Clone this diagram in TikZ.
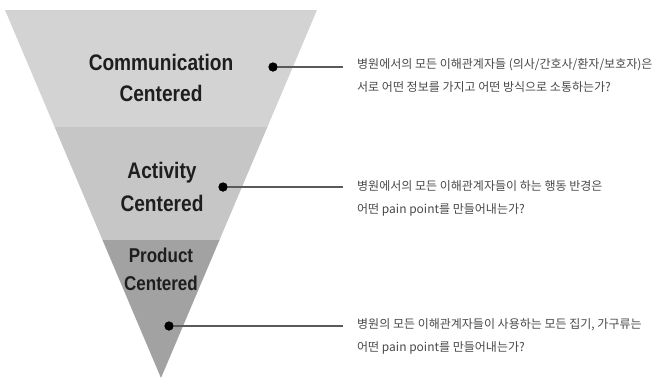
\documentclass[tikz,border=0pt]{standalone}
\usepackage{fontspec}
\usetikzlibrary{calc}
\newfontfamily\labfont[FakeStretch=0.85]{Liberation Sans}
\newfontfamily\krfont{Noto Sans CJK KR}
\definecolor{bandA}{HTML}{D3D3D3}
\definecolor{bandB}{HTML}{C6C6C6}
\definecolor{bandC}{HTML}{A2A2A2}
\definecolor{labtext}{HTML}{1E1E1E}
\definecolor{kortext}{HTML}{484848}
\definecolor{conn}{HTML}{5A5A5A}
\begin{document}
\begin{tikzpicture}[x=1pt,y=-1pt,
  lab/.style={font=\labfont\bfseries, text=labtext, align=center, inner sep=0pt},
  desc/.style={font=\krfont\fontsize{12}{23}\selectfont, text=kortext, align=left, anchor=west, inner sep=0pt},
  dotmark/.style={circle, fill=black, minimum size=9pt, inner sep=0pt},
  connline/.style={draw=conn, line width=1.5pt}]
\useasboundingbox (0,0) rectangle (656,381);
% funnel bands
\coordinate (TL) at (5,10);
\coordinate (TR) at (317,10);
\coordinate (AP) at (161,378);
\fill[bandA] (5,10) -- (317,10) -- ($(TR)!117/368!(AP)$) -- ($(TL)!117/368!(AP)$) -- cycle;
\fill[bandB] ($(TL)!117/368!(AP)$) -- ($(TR)!117/368!(AP)$) -- ($(TR)!230/368!(AP)$) -- ($(TL)!230/368!(AP)$) -- cycle;
\fill[bandC] ($(TL)!230/368!(AP)$) -- ($(TR)!230/368!(AP)$) -- (AP) -- cycle;
% labels
\node[lab, font=\labfont\bfseries\fontsize{22.5}{31}\selectfont] (l1) at (161,77.5) {Communication\\Centered};
\node[lab, font=\labfont\bfseries\fontsize{22.5}{33}\selectfont] (l2) at (162,186.5) {Activity\\Centered};
\node[lab, font=\labfont\bfseries\fontsize{20}{28}\selectfont] (l3) at (161,269) {Product\\Centered};
% dots
\node[dotmark] (d1) at (273,67) {};
\node[dotmark] (d2) at (223,187) {};
\node[dotmark] (d3) at (169,326) {};
% line ends
\coordinate (e1) at (343,67);
\coordinate (e2) at (343,187);
\coordinate (e3) at (343,326);
\draw[connline] (d1.center) -- (e1);
\draw[connline] (d2.center) -- (e2);
\draw[connline] (d3.center) -- (e3);
\node[dotmark] at (d1) {};
\node[dotmark] at (d2) {};
\node[dotmark] at (d3) {};
% descriptions
\node[desc] (t1) at (357,75.5) {병원에서의 모든 이해관계자들 (의사/간호사/환자/보호자)은\\서로 어떤 정보를 가지고 어떤 방식으로 소통하는가?};
\node[desc] (t2) at (357,198.5) {병원에서의 모든 이해관계자들이 하는 행동 반경은\\어떤 pain point를 만들어내는가?};
\node[desc] (t3) at (357,336.5) {병원의 모든 이해관계자들이 사용하는 모든 집기, 가구류는\\어떤 pain point를 만들어내는가?};
\end{tikzpicture}
\end{document}
